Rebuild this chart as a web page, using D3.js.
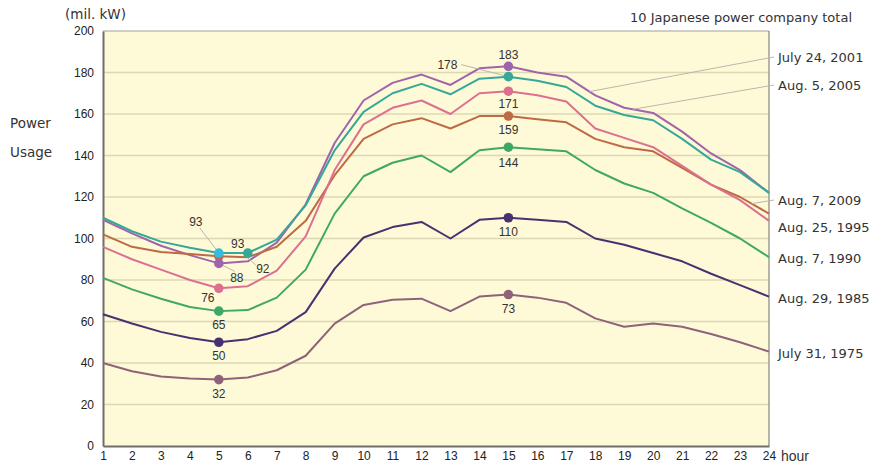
<!DOCTYPE html>
<html>
<head>
<meta charset="utf-8">
<script src="https://cdn.jsdelivr.net/npm/d3@7"></script>
<style>
  html, body { margin: 0; padding: 0; background: #ffffff; }
  svg { display: block; font-family: "DejaVu Sans", "Liberation Sans", sans-serif; }
</style>
</head>
<body>
<div id="chart"></div>
<script>
// ---------- data ----------
const hours = [1,2,3,4,5,6,7,8,9,10,11,12,13,14,15,16,17,18,19,20,21,22,23,24];
const yTicks = [0,20,40,60,80,100,120,140,160,180,200];

const s2001 = [109,102.5,96.5,92,88,89,98,116.5,146,166.5,175,179,174,182,183,180,178,169,163,160.5,151.5,141,133,122];
const s2005 = [110,103.5,98.5,95.5,93,93,99.5,116,142.5,161,170,174.5,169.5,177,178,176,173,164,159.5,157,148,138,132,122];
const s2009 = [102,96,93.5,92.5,91.5,91,96,108.5,130.5,148,155,158,153,159,159,157.5,156,148,144,142,134,126,120,112];
const s1995 = [96,90,85,80,76,77,84.5,101,133,155,163,166.5,160,170,171,169,166,153,148.5,144,135,126,118.5,108.5];
const s1990 = [81,75.5,71,67,65,65.5,71.5,85,112,130,136.5,140,132,142.5,144,143,142,133,126.5,122,114.5,107.5,100,91];
const s1985 = [63.5,59,55,52,50,51.5,55.5,64.5,85.5,100.5,105.5,108,100,109,110,109,108,100,97,93,89,83,77.5,72];
const s1975 = [40,36,33.5,32.5,32,33,36.5,43.5,59,68,70.5,71,65,72,73,71.5,69,61.5,57.5,59,57.5,54,50,45.5];

const seriesNames = ["July 24, 2001","Aug. 5, 2005","Aug. 7, 2009","Aug. 25, 1995","Aug. 7, 1990","Aug. 29, 1985","July 31, 1975"];
const seriesColors = ["#a064aa","#35a898","#be6a44","#dc7090","#40a867","#4a3070","#8e6379"];

// annotated points: [series index, hour, label]
const minMarks = [[2,5,"92"],[1,5,"93"],[1,6,"93"],[0,5,"88"],[3,5,"76"],[4,5,"65"],[5,5,"50"],[6,5,"32"]];
const maxMarks = [[0,15,"183"],[1,15,"178"],[3,15,"171"],[2,15,"159"],[4,15,"144"],[5,15,"110"],[6,15,"73"]];

// ---------- layout ----------
const W = 876, H = 465;
const X0 = 103, X1 = 769, Y0 = 446, Y1 = 31;
const series = [s2001, s2005, s2009, s1995, s1990, s1985, s1975];

const svg = d3.select("#chart").append("svg").attr("width", W).attr("height", H);

const x = d3.scaleLinear().domain([1, 24]).range([X0, X1]);
const y = d3.scaleLinear().domain([0, 200]).range([Y0, Y1]);

// plot background
svg.append("rect").attr("x", X0).attr("y", Y1).attr("width", X1 - X0).attr("height", Y0 - Y1)
  .attr("fill", "#fefad8");

// gridlines
svg.append("g").selectAll("line").data(yTicks.filter(d => d > 0 && d < 200)).join("line")
  .attr("x1", X0).attr("x2", X1)
  .attr("y1", d => y(d)).attr("y2", d => y(d))
  .attr("stroke", "#dcd8b4").attr("stroke-width", 1.6);

// frame
svg.append("line").attr("x1", X0).attr("x2", X1).attr("y1", Y1).attr("y2", Y1).attr("stroke", "#a09f90").attr("stroke-width", 1);
svg.append("line").attr("x1", X1).attr("x2", X1).attr("y1", Y1).attr("y2", Y0).attr("stroke", "#8f8f85").attr("stroke-width", 1.3);

// y axis
const yAxis = d3.axisLeft(y).tickValues(yTicks).tickSize(0).tickPadding(9);
const gy = svg.append("g").attr("transform", `translate(${X0},0)`).call(yAxis);
gy.select(".domain").attr("stroke", "#6f6f68").attr("stroke-width", 2);
gy.selectAll("text").attr("font-size", 12).attr("fill", "#222").attr("font-family", "Liberation Sans, Arial, sans-serif");

// x axis
const xAxis = d3.axisBottom(x).tickValues(hours).tickSize(0).tickPadding(5);
const gx = svg.append("g").attr("transform", `translate(0,${Y0})`).call(xAxis);
gx.select(".domain").attr("stroke", "#6f6f68").attr("stroke-width", 2);
gx.selectAll("text").attr("font-size", 12).attr("fill", "#222").attr("font-family", "Liberation Sans, Arial, sans-serif");

// lines
const line = d3.line().x((d, i) => x(hours[i])).y(d => y(d));
series.forEach((s, k) => {
  svg.append("path").datum(s).attr("d", line)
    .attr("fill", "none").attr("stroke", seriesColors[k]).attr("stroke-width", 2)
    .attr("stroke-linejoin", "round");
});

// leader lines
const leaderColor = "#b8b8a8";
function leader(x1, y1, x2, y2) {
  svg.append("line").attr("x1", x1).attr("y1", y1).attr("x2", x2).attr("y2", y2)
    .attr("stroke", leaderColor).attr("stroke-width", 1);
}
const v = (k, h) => series[k][hours.indexOf(h)];

// annotation label offsets (layout only)
const minLabelOffsets = {
  "1-5": {dx: -23, dy: -31, lead: true, color: "#36bce0"},
  "1-6": {dx: -10, dy: -9},
  "2-5": {dx: 44, dy: 13, lead: true},
  "0-5": {dx: 18, dy: 14, lead: true},
  "3-5": {dx: -11, dy: 9},
  "4-5": {dx: 0, dy: 14},
  "5-5": {dx: 0, dy: 14},
  "6-5": {dx: 0, dy: 14}
};
const maxLabelOffsets = {
  "0-15": {dx: 0, dy: -11},
  "1-15": {dx: -61, dy: -12, lead: true},
  "3-15": {dx: 0, dy: 13},
  "2-15": {dx: 0, dy: 14},
  "4-15": {dx: 0, dy: 16},
  "5-15": {dx: 0, dy: 14},
  "6-15": {dx: 0, dy: 14}
};

function annotate(marks, offsets) {
  marks.forEach(([k, h, t]) => {
    const o = offsets[k + "-" + h];
    const px = x(h), py = y(v(k, h));
    const lx = px + o.dx, ly = py + o.dy;
    if (o.lead) {
      if (k === 1 && h === 5) leader(lx + 4, ly + 6, px, py);
      else if (k === 2) leader(lx - 7, ly - 4, px + 26, py - 1);
      else if (k === 0 && h === 5) leader(px, py, lx - 2, ly - 6);
      else if (k === 1 && h === 15) leader(lx + 14, ly, px, py);
    }
    svg.append("circle").attr("cx", px).attr("cy", py).attr("r", 4.8)
      .attr("fill", o.color || seriesColors[k]);
    svg.append("text").attr("x", lx).attr("y", ly).attr("dy", "0.35em")
      .attr("text-anchor", "middle").attr("font-size", 12).attr("fill", "#333")
      .attr("font-family", "Liberation Sans, Arial, sans-serif")
      .text(t);
  });
}
annotate(minMarks, minLabelOffsets);
annotate(maxMarks, maxLabelOffsets);

// right-hand series labels
const labelYs = [57, 85, 200, 227, 258, 298, 353];
const leaderEnds = [[17.8, 0], [19.3, 0], [23.4, 2]]; // [hour, series index]
leaderEnds.forEach(([h, k], i) => {
  const i0 = Math.floor(h) - 1, f = h - Math.floor(h);
  const val = series[k][i0] + (series[k][i0 + 1] - series[k][i0]) * f;
  leader(x(h), y(val), X1 + 5, labelYs[i]);
});
svg.append("g").selectAll("text").data(seriesNames).join("text")
  .attr("x", X1 + 9).attr("y", (d, i) => labelYs[i]).attr("dy", "0.35em")
  .attr("font-size", 13).attr("fill", "#333")
  .attr("font-family", "Verdana, DejaVu Sans, sans-serif")
  .text(d => d);

// titles
svg.append("text").attr("x", 65).attr("y", 14).attr("dy", "0.35em").attr("font-size", 13.5)
  .attr("fill", "#333").attr("font-family", "Verdana, DejaVu Sans, sans-serif").text("(mil. kW)");
svg.append("text").attr("x", 852).attr("y", 17).attr("dy", "0.35em").attr("text-anchor", "end")
  .attr("font-size", 13).attr("fill", "#333").attr("font-family", "Verdana, DejaVu Sans, sans-serif")
  .text("10 Japanese power company total");
svg.append("text").attr("x", 10).attr("y", 123).attr("dy", "0.35em").attr("font-size", 13.5)
  .attr("fill", "#333").attr("font-family", "Verdana, DejaVu Sans, sans-serif").text("Power");
svg.append("text").attr("x", 10).attr("y", 152).attr("dy", "0.35em").attr("font-size", 13.5)
  .attr("fill", "#333").attr("font-family", "Verdana, DejaVu Sans, sans-serif").text("Usage");
svg.append("text").attr("x", 781).attr("y", 456).attr("dy", "0.35em").attr("font-size", 14)
  .attr("fill", "#333").attr("font-family", "Liberation Sans, Arial, sans-serif").text("hour");
</script>
</body>
</html>
